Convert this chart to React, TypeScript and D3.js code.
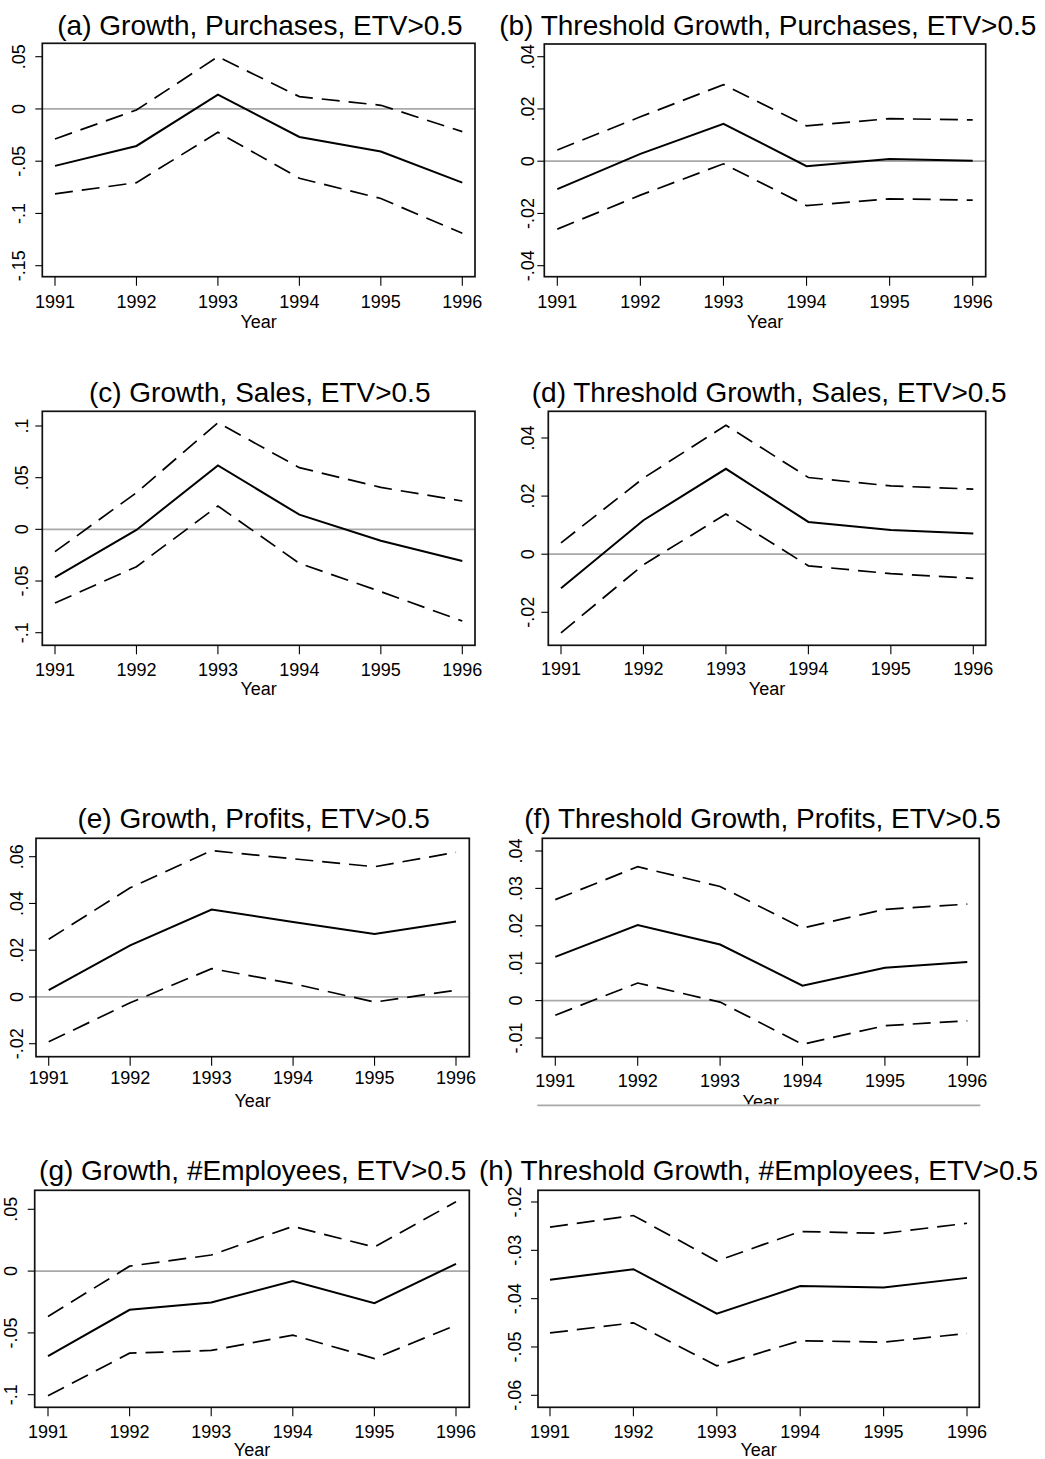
import React, { useEffect } from "react";
import * as d3 from "d3";

// years on every x axis
const years = [1991, 1992, 1993, 1994, 1995, 1996];

// (a) Growth, Purchases
const purchGrowth = [-0.0545, -0.0354, 0.0137, -0.0268, -0.0408, -0.0705];
const purchGrowthHi = [-0.0287, -0.001, 0.05, 0.0118, 0.0035, -0.0217];
const purchGrowthLo = [-0.0813, -0.0705, -0.0223, -0.0663, -0.0857, -0.119];
const ticksA = [-0.15, -0.1, -0.05, 0, 0.05];
const labelsA = ["-.15", "-.1", "-.05", "0", ".05"];

// (b) Threshold Growth, Purchases
const purchThr = [-0.0107, 0.0028, 0.0143, -0.0019, 0.0008, 0.0002];
const purchThrHi = [0.0043, 0.017, 0.0293, 0.0135, 0.0163, 0.0158];
const purchThrLo = [-0.026, -0.013, -0.001, -0.017, -0.0144, -0.0149];
const ticksB = [-0.04, -0.02, 0, 0.02, 0.04];
const labelsB = ["-.04", "-.02", "0", ".02", ".04"];

// (c) Growth, Sales
const salesGrowth = [-0.0465, -0.0006, 0.0619, 0.0142, -0.011, -0.0306];
const salesGrowthHi = [-0.0216, 0.0355, 0.1032, 0.0597, 0.0406, 0.0274];
const salesGrowthLo = [-0.0713, -0.0361, 0.0226, -0.0329, -0.0603, -0.0887];
const ticksC = [-0.1, -0.05, 0, 0.05, 0.1];
const labelsC = ["-.1", "-.05", "0", ".05", ".1"];

// (d) Threshold Growth, Sales
const salesThr = [-0.0117, 0.0117, 0.0294, 0.0111, 0.0083, 0.0071];
const salesThrHi = [0.0039, 0.0262, 0.0444, 0.0264, 0.0235, 0.0224];
const salesThrLo = [-0.0271, -0.0036, 0.0138, -0.004, -0.0067, -0.0083];
const ticksD = [-0.02, 0, 0.02, 0.04];
const labelsD = ["-.02", "0", ".02", ".04"];

// (e) Growth, Profits
const profGrowth = [0.0029, 0.0221, 0.0374, 0.0321, 0.0269, 0.0323];
const profGrowthHi = [0.0247, 0.0467, 0.0626, 0.0591, 0.0557, 0.0619];
const profGrowthLo = [-0.0192, -0.0025, 0.0121, 0.0057, -0.0022, 0.0029];
const ticksE = [-0.02, 0, 0.02, 0.04, 0.06];
const labelsE = ["-.02", "0", ".02", ".04", ".06"];

// (f) Threshold Growth, Profits
const profThr = [0.0117, 0.0202, 0.015, 0.004, 0.0088, 0.0103];
const profThrHi = [0.027, 0.0358, 0.0305, 0.0194, 0.0244, 0.0258];
const profThrLo = [-0.0039, 0.0047, -0.0004, -0.0117, -0.0067, -0.0054];
const ticksF = [-0.01, 0, 0.01, 0.02, 0.03, 0.04];
const labelsF = ["-.01", "0", ".01", ".02", ".03", ".04"];

// (g) Growth, #Employees
const empGrowth = [-0.0688, -0.0313, -0.0254, -0.0081, -0.0259, 0.0059];
const empGrowthHi = [-0.0367, 0.004, 0.013, 0.0362, 0.0194, 0.0561];
const empGrowthLo = [-0.1009, -0.0664, -0.0642, -0.0518, -0.0707, -0.0437];
const ticksG = [-0.1, -0.05, 0, 0.05];
const labelsG = ["-.1", "-.05", "0", ".05"];

// (h) Threshold Growth, #Employees
const empThr = [-0.0361, -0.0339, -0.0431, -0.0374, -0.0377, -0.0357];
const empThrHi = [-0.0252, -0.0228, -0.0322, -0.0261, -0.0265, -0.0244];
const empThrLo = [-0.0471, -0.045, -0.0539, -0.0487, -0.049, -0.0472];
const ticksH = [-0.06, -0.05, -0.04, -0.03, -0.02];
const labelsH = ["-.06", "-.05", "-.04", "-.03", "-.02"];

const titles = [
  "(a) Growth, Purchases, ETV>0.5",
  "(b) Threshold Growth, Purchases, ETV>0.5",
  "(c) Growth, Sales, ETV>0.5",
  "(d) Threshold Growth, Sales, ETV>0.5",
  "(e) Growth, Profits, ETV>0.5",
  "(f) Threshold Growth, Profits, ETV>0.5",
  "(g) Growth, #Employees, ETV>0.5",
  "(h) Threshold Growth, #Employees, ETV>0.5",
];

interface Layout {
  frame: [number, number, number, number]; // x0, x1, y0, y1
  xr: [number, number]; // pixel of first / last year
  yr: [number, number]; // pixel of lowest / highest tick
  titleX: number;
  titleY: number;
  tickY: number;
  yearY: number;
  labelX: number;
}

interface PanelSpec {
  title: string;
  est: number[];
  hi: number[];
  lo: number[];
  ticks: number[];
  labels: string[];
  lay: Layout;
  clipYear?: number;
}

const panels: PanelSpec[] = [
  {
    title: titles[0], est: purchGrowth, hi: purchGrowthHi, lo: purchGrowthLo, ticks: ticksA, labels: labelsA,
    lay: { frame: [42.3, 475, 43.3, 276.7], xr: [55, 462.3], yr: [265.7, 56.7], titleX: 260, titleY: 34.5, tickY: 308.3, yearY: 328.3, labelX: 25.3 },
  },
  {
    title: titles[1], est: purchThr, hi: purchThrHi, lo: purchThrLo, ticks: ticksB, labels: labelsB,
    lay: { frame: [544.3, 985.7, 44, 276.7], xr: [557.3, 972.7], yr: [265.7, 56.7], titleX: 767.8, titleY: 35, tickY: 308.3, yearY: 328.3, labelX: 533.5 },
  },
  {
    title: titles[2], est: salesGrowth, hi: salesGrowthHi, lo: salesGrowthLo, ticks: ticksC, labels: labelsC,
    lay: { frame: [42.3, 475, 411.3, 645.3], xr: [55, 462.3], yr: [632.7, 426], titleX: 259.7, titleY: 401.7, tickY: 676, yearY: 695, labelX: 28.3 },
  },
  {
    title: titles[3], est: salesThr, hi: salesThrHi, lo: salesThrLo, ticks: ticksD, labels: labelsD,
    lay: { frame: [548.3, 985.7, 411.3, 645.3], xr: [561, 973.3], yr: [612.3, 438], titleX: 769.2, titleY: 401.7, tickY: 675, yearY: 695, labelX: 534 },
  },
  {
    title: titles[4], est: profGrowth, hi: profGrowthHi, lo: profGrowthLo, ticks: ticksE, labels: labelsE,
    lay: { frame: [36, 469.3, 838.3, 1056.7], xr: [48.7, 456], yr: [1043.7, 856.7], titleX: 253.7, titleY: 828.3, tickY: 1084, yearY: 1106.7, labelX: 23.3 },
  },
  {
    title: titles[5], est: profThr, hi: profThrHi, lo: profThrLo, ticks: ticksF, labels: labelsF,
    lay: { frame: [542.3, 979.3, 838.3, 1056.7], xr: [555.3, 967.3], yr: [1038, 851], titleX: 762.5, titleY: 828.3, tickY: 1086.5, yearY: 1107.5, labelX: 522 },
    clipYear: 1104.5,
  },
  {
    title: titles[6], est: empGrowth, hi: empGrowthHi, lo: empGrowthLo, ticks: ticksG, labels: labelsG,
    lay: { frame: [34.7, 469.3, 1190.3, 1407.3], xr: [48, 456], yr: [1394.7, 1209.3], titleX: 252.7, titleY: 1180, tickY: 1438, yearY: 1455.5, labelX: 16.7 },
  },
  {
    title: titles[7], est: empThr, hi: empThrHi, lo: empThrLo, ticks: ticksH, labels: labelsH,
    lay: { frame: [538, 979.3, 1190.3, 1407.3], xr: [550, 967], yr: [1395.3, 1202], titleX: 758.5, titleY: 1180, tickY: 1438.3, yearY: 1455.5, labelX: 521 },
  },
];

const font = "'Liberation Sans', Arial, Helvetica, sans-serif";

const Panel: React.FC<{ p: PanelSpec; idx: number }> = ({ p, idx }) => {
  const { lay } = p;
  const [x0, x1, y0, y1] = lay.frame;
  const x = d3.scaleLinear().domain([years[0], years[years.length - 1]]).range(lay.xr);
  const y = d3
    .scaleLinear()
    .domain([p.ticks[0], p.ticks[p.ticks.length - 1]])
    .range(lay.yr);
  const line = d3
    .line<number>()
    .x((_, i) => x(years[i]))
    .y((d) => y(d));

  const [dMin, dMax] = [y.invert(y1), y.invert(y0)];
  const showZero = dMin < 0 && dMax > 0;
  const clipId = `clip-year-${idx}`;

  return (
    <g>
      <text x={lay.titleX} y={lay.titleY} textAnchor="middle" fontSize={28}>
        {p.title}
      </text>

      {showZero && (
        <line x1={x0} x2={x1} y1={y(0)} y2={y(0)} stroke="#a9a9a9" strokeWidth={1.8} />
      )}

      <path d={line(p.hi) || ""} fill="none" stroke="#000" strokeWidth={1.7} strokeDasharray="18,9" />
      <path d={line(p.lo) || ""} fill="none" stroke="#000" strokeWidth={1.7} strokeDasharray="18,9" />
      <path d={line(p.est) || ""} fill="none" stroke="#000" strokeWidth={2} />

      <rect x={x0} y={y0} width={x1 - x0} height={y1 - y0} fill="none" stroke="#111" strokeWidth={1.7} />

      {/* x axis */}
      {years.map((yr) => (
        <g key={yr}>
          <line x1={x(yr)} x2={x(yr)} y1={y1} y2={y1 + 9} stroke="#000" strokeWidth={1.1} />
          <text x={x(yr)} y={lay.tickY} textAnchor="middle" fontSize={18}>
            {yr}
          </text>
        </g>
      ))}
      {p.clipYear !== undefined && (
        <defs>
          <clipPath id={clipId}>
            <rect x={x0 - 20} y={lay.yearY - 30} width={x1 - x0 + 40} height={p.clipYear - (lay.yearY - 30)} />
          </clipPath>
        </defs>
      )}
      <text
        x={(x0 + x1) / 2}
        y={lay.yearY}
        textAnchor="middle"
        fontSize={18}
        clipPath={p.clipYear !== undefined ? `url(#${clipId})` : undefined}
      >
        Year
      </text>
      {p.clipYear !== undefined && (
        <line x1={x0 - 5} x2={x1 + 1} y1={p.clipYear + 0.8} y2={p.clipYear + 0.8} stroke="#a9a9a9" strokeWidth={1.8} />
      )}

      {/* y axis */}
      {p.ticks.map((t, i) => (
        <g key={t}>
          <line x1={x0 - 7} x2={x0} y1={y(t)} y2={y(t)} stroke="#000" strokeWidth={1.1} />
          <text
            transform={`translate(${lay.labelX},${y(t)}) rotate(-90)`}
            textAnchor="middle"
            fontSize={18}
          >
            {p.labels[i]}
          </text>
        </g>
      ))}
    </g>
  );
};

const App: React.FC = () => {
  useEffect(() => {
    document.body.style.margin = "0";
  }, []);

  return (
    <svg
      width={1045}
      height={1459}
      style={{ position: "absolute", left: 0, top: 0, display: "block", background: "#fff" }}
      fontFamily={font}
      fill="#000"
    >
      <rect x={0} y={0} width={1045} height={1459} fill="#fff" />
      {panels.map((p, i) => (
        <Panel key={i} p={p} idx={i} />
      ))}
    </svg>
  );
};

export default App;
